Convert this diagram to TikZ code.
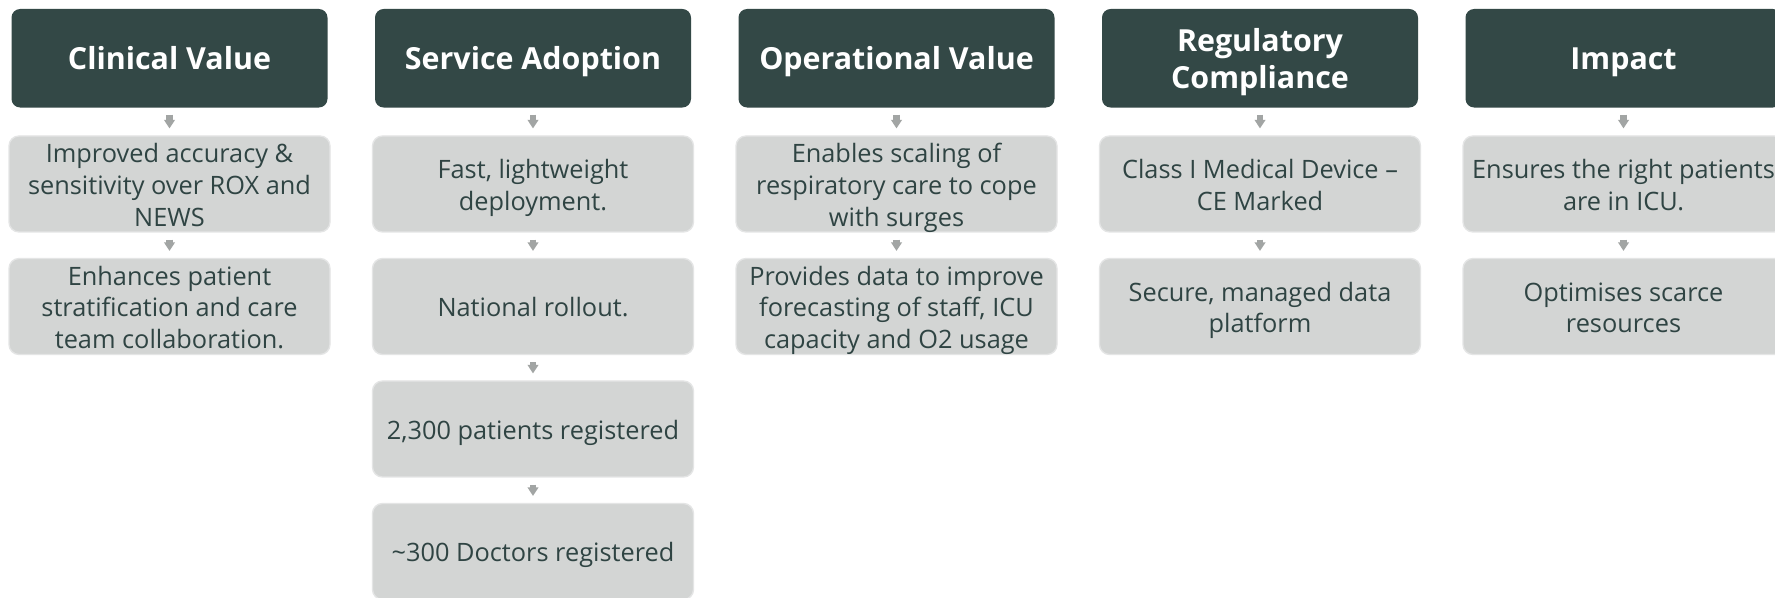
\documentclass[tikz,border=0pt]{standalone}
\usepackage{fontspec}
\setmainfont{Open Sans}
\usetikzlibrary{arrows.meta}
\definecolor{hdr}{HTML}{334846}
\definecolor{boxfill}{HTML}{D3D5D4}
\definecolor{boxline}{HTML}{E4E5E5}
\definecolor{txt}{HTML}{2F4443}
\definecolor{arr}{HTML}{A2A5A4}
\newcommand\hdline[1]{\rule[-5.2pt]{0pt}{28pt}\smash{#1}}
\newcommand\bl[1]{\rule[-4.1pt]{0pt}{23.8pt}\smash{#1}}
\tikzset{
  header/.style={fill=hdr, draw=none, rounded corners=6.5pt, minimum width=237pt, minimum height=73.9pt,
    inner sep=0pt, align=center, text=white, font=\fontsize{22.8}{28}\selectfont\bfseries},
  itembox/.style={fill=boxfill, draw=boxline, line width=1pt, rounded corners=7.5pt, minimum width=240.75pt,
    minimum height=72pt, inner sep=0pt, align=center, text=txt, font=\fontsize{19}{23.8}\selectfont},
  conn/.style={draw=arr, line width=5.2pt, -{Triangle[width=7.9pt,length=6.4pt]}, shorten <=5.2pt, shorten >=5.2pt}
}
\begin{document}
\begin{tikzpicture}[x=0.75pt,y=-0.75pt]
\clip (0,0) rectangle (1775,598);
\fill[white] (0,0) rectangle (1775,598);
% column 1
\node[header] (h1) at (169.5,58.25) {\hdline{Clinical Value}};
\node[itembox] (c1a) at (169.5,184) {\bl{Improved accuracy \&}\\\bl{sensitivity over ROX and}\\\bl{NEWS}};
\node[itembox] (c1b) at (169.5,306.5) {\bl{Enhances patient}\\\bl{stratification and care}\\\bl{team collaboration.}};
% column 2
\node[header] (h2) at (533,58.25) {\hdline{Service Adoption}};
\node[itembox] (c2a) at (533,184) {\bl{Fast, lightweight}\\\bl{deployment.}};
\node[itembox] (c2b) at (533,306.5) {\bl{National rollout.}};
\node[itembox] (c2c) at (533,429) {\bl{2,300 patients registered}};
\node[itembox] (c2d) at (533,551.5) {\bl{\textasciitilde300 Doctors registered}};
% column 3
\node[header] (h3) at (896.5,58.25) {\hdline{Operational Value}};
\node[itembox] (c3a) at (896.5,184) {\bl{Enables scaling of}\\\bl{respiratory care to cope}\\\bl{with surges}};
\node[itembox] (c3b) at (896.5,306.5) {\bl{Provides data to improve}\\\bl{forecasting of staff, ICU}\\\bl{capacity and O2 usage}};
% column 4
\node[header] (h4) at (1260,58.25) {\hdline{Regulatory}\\\hdline{Compliance}};
\node[itembox] (c4a) at (1260,184) {\bl{Class I Medical Device –}\\\bl{CE Marked}};
\node[itembox] (c4b) at (1260,306.5) {\bl{Secure, managed data}\\\bl{platform}};
% column 5
\node[header] (h5) at (1623.5,58.25) {\hdline{Impact}};
\node[itembox] (c5a) at (1623.5,184) {\bl{Ensures the right patients}\\\bl{are in ICU.}};
\node[itembox] (c5b) at (1623.5,306.5) {\bl{Optimises scarce}\\\bl{resources}};
% connectors
\draw[conn] (h1) -- (c1a);
\draw[conn] (c1a) -- (c1b);
\draw[conn] (h2) -- (c2a);
\draw[conn] (c2a) -- (c2b);
\draw[conn] (c2b) -- (c2c);
\draw[conn] (c2c) -- (c2d);
\draw[conn] (h3) -- (c3a);
\draw[conn] (c3a) -- (c3b);
\draw[conn] (h4) -- (c4a);
\draw[conn] (c4a) -- (c4b);
\draw[conn] (h5) -- (c5a);
\draw[conn] (c5a) -- (c5b);
\end{tikzpicture}
\end{document}
